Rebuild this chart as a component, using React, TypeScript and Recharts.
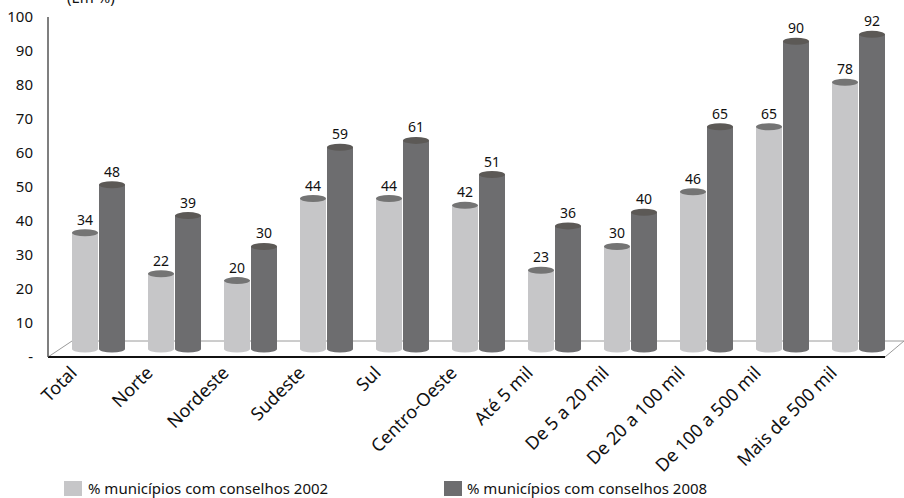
import { ComposedChart, Bar, Line, XAxis, YAxis, LabelList, Customized } from "recharts";

// categorias e valores (%)
const categories = [
  "Total",
  "Norte",
  "Nordeste",
  "Sudeste",
  "Sul",
  "Centro-Oeste",
  "Até 5 mil",
  "De 5 a 20 mil",
  "De 20 a 100 mil",
  "De 100 a 500 mil",
  "Mais de 500 mil",
];
const values2002 = [34, 22, 20, 44, 44, 42, 23, 30, 46, 65, 78];
const values2008 = [48, 39, 30, 59, 61, 51, 36, 40, 65, 90, 92];
const yTicks = [0, 10, 20, 30, 40, 50, 60, 70, 80, 90, 100];
const seriesNames = ["% municípios com conselhos 2002", "% municípios com conselhos 2008"];

const data = categories.map((name, i) => ({
  name,
  v2002: values2002[i],
  v2008: values2008[i],
}));

const FONT = "'Noto Sans', sans-serif";
const W = 904;
const H = 498;
const TOP = 17;
const BASE = 357;
const AXIS_X = 48;

const LIGHT = "#c6c6c8";
const DARK = "#6d6d6f";

const cylinder = (topColor: string) => (props: any) => {
  const { x, y, width, height, fill } = props;
  if (!width || height == null) return null;
  const rx = width / 2;
  const ry = 3.5;
  const bottom = y + height;
  const d = `M${x},${y} L${x},${bottom} A${rx},${ry} 0 0 0 ${x + width},${bottom} L${x + width},${y} Z`;
  return (
    <g>
      <path d={d} fill={fill} />
      <ellipse cx={x + rx} cy={y} rx={rx} ry={ry} fill={topColor} />
    </g>
  );
};

const valueLabel = (props: any) => {
  const { x, y, width, value } = props;
  return (
    <text x={x + width / 2} y={y - 8} textAnchor="middle" fontSize={14} fontFamily={FONT} fill="#111">
      {value}
    </text>
  );
};

const CategoryTick = (props: any) => {
  const { x, y, payload } = props;
  const ax = x - 20;
  const ay = y + 15;
  return (
    <text
      x={ax}
      y={ay}
      transform={`rotate(-45 ${ax} ${ay})`}
      textAnchor="end"
      fontSize={18}
      fontFamily={FONT}
      fill="#111"
    >
      {payload.value}
    </text>
  );
};

const Floor = () => (
  <g>
    <line x1={AXIS_X} y1={BASE} x2={AXIS_X + 24} y2={BASE - 16} stroke="#9a9a9a" strokeWidth={1} />
    <line x1={AXIS_X + 24} y1={BASE - 16} x2={W} y2={BASE - 16} stroke="#9a9a9a" strokeWidth={1} />
    <line x1={W - 19} y1={BASE} x2={W} y2={BASE - 16} stroke="#9a9a9a" strokeWidth={1} />
  </g>
);

const Overlay = () => (
  <g fontFamily={FONT} fill="#111">
    <line x1={AXIS_X} y1={BASE} x2={W - 19} y2={BASE} stroke="#111" strokeWidth={2} />
    <text x={67} y={3} fontSize={15}>(Em %)</text>
    <rect x={64} y={481} width={18} height={15} fill={LIGHT} />
    <text x={88} y={494} fontSize={15}>{seriesNames[0]}</text>
    <rect x={444} y={481} width={18} height={15} fill={DARK} />
    <text x={467} y={494} fontSize={15}>{seriesNames[1]}</text>
  </g>
);

export default function App() {
  return (
    <div style={{ position: "fixed", top: 0, left: 0, width: W, height: H, background: "#fff" }}>
      <ComposedChart
        width={W}
        height={H}
        data={data}
        margin={{ top: TOP, right: 0, bottom: 41, left: 0 }}
        barSize={26}
        barGap={1}
      >
        <Customized component={Floor} />
        <XAxis
          dataKey="name"
          axisLine={false}
          tickLine={false}
          tickSize={0}
          interval={0}
          height={H - BASE - 41}
          padding={{ left: 12, right: 8 }}
          tick={<CategoryTick />}
        />
        <YAxis
          yAxisId="ticks"
          width={AXIS_X}
          domain={[0, 100]}
          ticks={yTicks}
          tickFormatter={(v: number) => (v === 0 ? "-" : String(v))}
          tickLine={false}
          tickSize={0}
          tickMargin={15}
          axisLine={{ stroke: "#555", strokeWidth: 1.5 }}
          tick={{ fontSize: 15, fontFamily: FONT, fill: "#111" }}
        />
        <YAxis
          yAxisId="bars"
          orientation="right"
          width={0}
          hide
          domain={[-2.34, 97.08]}
          allowDataOverflow
        />
        {/* série invisível só para ativar o eixo de escala 0-100 */}
        <Line
          yAxisId="ticks"
          dataKey="v2002"
          stroke="none"
          dot={false}
          activeDot={false}
          legendType="none"
          isAnimationActive={false}
        />
        <Bar
          yAxisId="bars"
          dataKey="v2002"
          fill={LIGHT}
          shape={cylinder("#747474")}
          isAnimationActive={false}
        >
          <LabelList dataKey="v2002" content={valueLabel} />
        </Bar>
        <Bar
          yAxisId="bars"
          dataKey="v2008"
          fill={DARK}
          shape={cylinder("#5c5956")}
          isAnimationActive={false}
        >
          <LabelList dataKey="v2008" content={valueLabel} />
        </Bar>
        <Customized component={Overlay} />
      </ComposedChart>
    </div>
  );
}
